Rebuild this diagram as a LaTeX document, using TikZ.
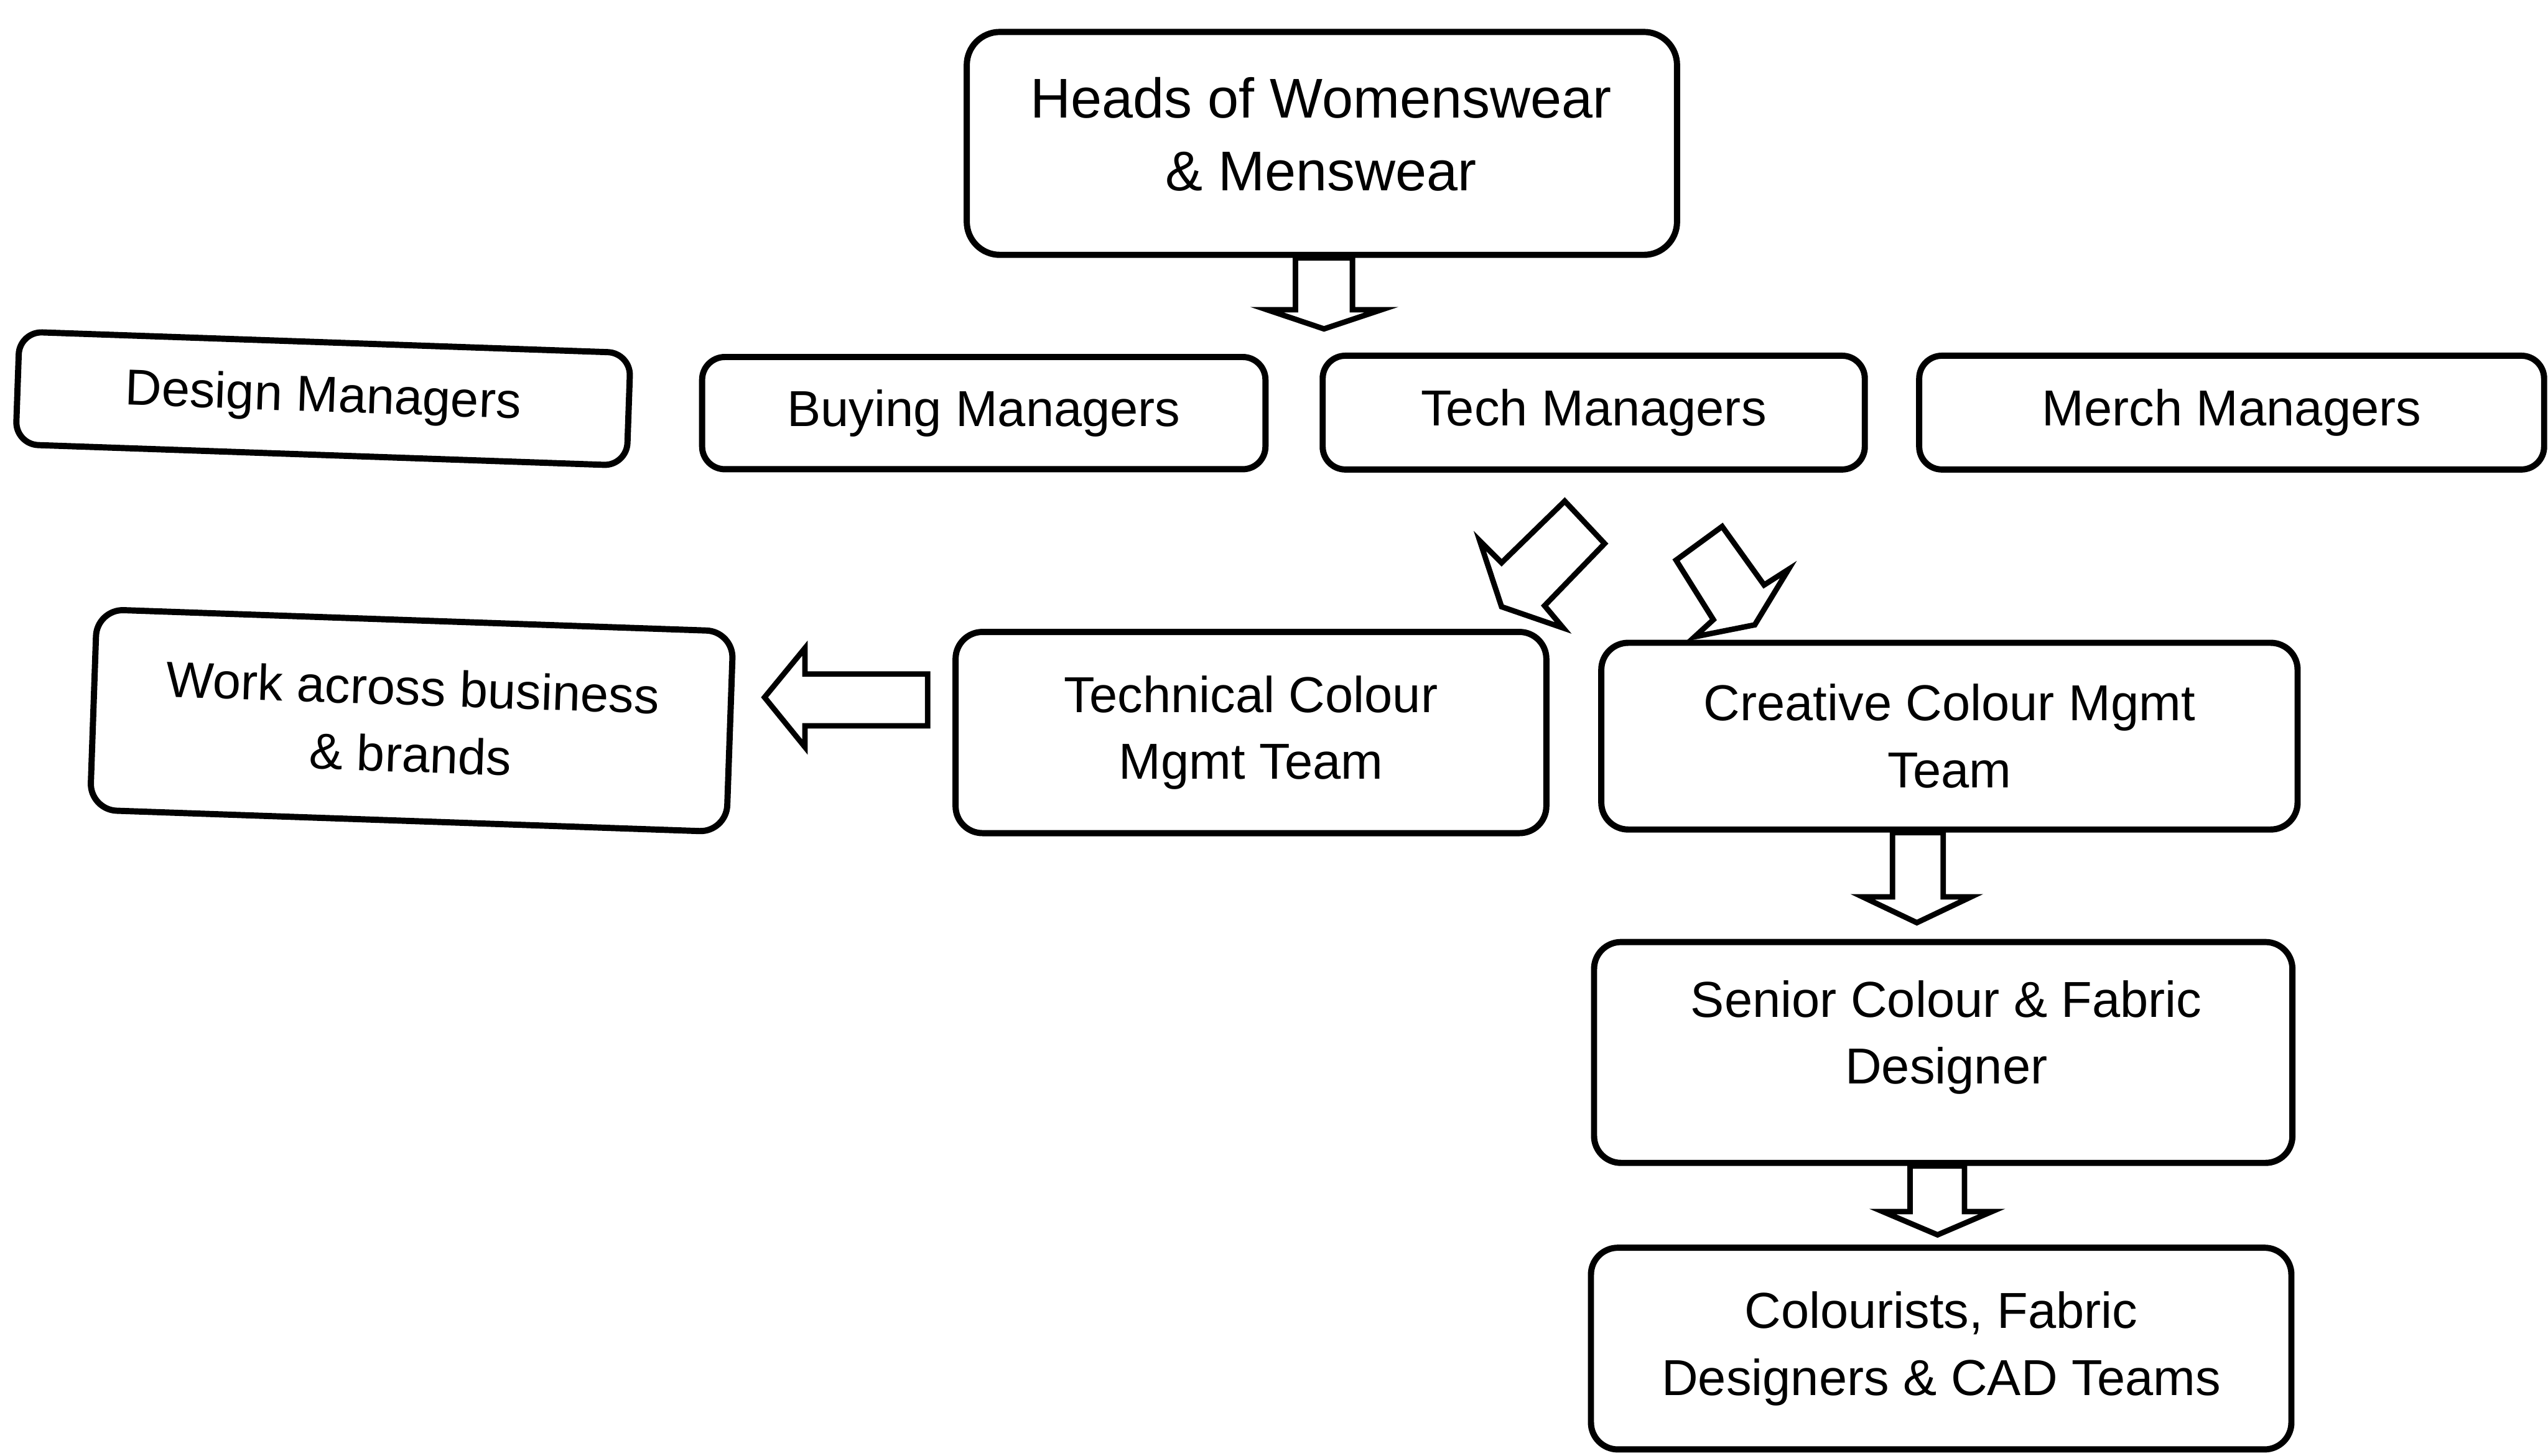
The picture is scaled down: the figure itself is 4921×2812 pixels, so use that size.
\documentclass[tikz,border=0pt]{standalone}
\usepackage{fontspec}
\setmainfont{Liberation Sans}
\usetikzlibrary{calc}
\begin{document}
\begin{tikzpicture}[x=0.005cm, y=-0.005cm,
  box/.style={draw, line width=1.7pt, rounded corners=0.22cm, align=center,
    inner sep=0pt, font=\fontsize{13.9}{18.4}\selectfont},
  lbl/.style={align=center, inner sep=0pt, font=\fontsize{13.9}{18.4}\selectfont},
  barrow/.style={draw, line width=1.5pt, fill=white, line join=miter}]
\useasboundingbox (0,0) rectangle (4921,2812);

% top level
\node[box, minimum width=6.865cm, minimum height=2.155cm, rounded corners=0.32cm] (heads) at (2553,277) {};
\node[lbl, font=\fontsize{15.4}{20}\selectfont] (headsText) at (2551,259) {Heads of Womenswear\\\& Menswear};

% managers row
\node[box, minimum width=5.91cm, minimum height=1.09cm, rotate=-2] (design) at (624,770) {Design Managers};
\node[box, minimum width=5.445cm, minimum height=1.085cm] (buying) at (1900,798) {Buying Managers};
\node[box, minimum width=5.24cm, minimum height=1.10cm] (tech) at (3078,797) {Tech Managers};
\node[box, minimum width=6.04cm, minimum height=1.10cm] (merch) at (4310,797) {Merch Managers};

% colour management teams
\node[box, minimum width=6.155cm, minimum height=1.94cm, rotate=-2, rounded corners=0.26cm] (work) at (795,1392) {Work across business\\\& brands};
\node[box, minimum width=5.71cm, minimum height=1.945cm, rounded corners=0.26cm] (technical) at (2416,1415) {Technical Colour\\Mgmt Team};
\node[box, minimum width=6.73cm, minimum height=1.805cm, rounded corners=0.26cm] (creative) at (3765,1422) {Creative Colour Mgmt\\Team};

% design chain
\node[box, minimum width=6.75cm, minimum height=2.135cm, rounded corners=0.26cm] (senior) at (3753,2033) {};
\node[lbl] (seniorText) at (3759,2004) {Senior Colour \& Fabric\\Designer};
\node[box, minimum width=6.77cm, minimum height=1.95cm, rounded corners=0.26cm] (colourists) at (3749,2605) {Colourists, Fabric\\Designers \& CAD Teams};

% block arrows
\draw[barrow] ($(heads.south)+(-51,0)$) -- ++(0,100) -- ++(-55,0) -- ++(110,37)
  -- ++(111,-37) -- ++(-56,0) -- ++(0,-100) -- cycle;

\draw[barrow] (3022,968) -- (3099,1050) -- (2983,1170) -- (3019,1213)
  -- (2900,1172) -- (2858,1045) -- (2900,1087) -- cycle;
\draw[barrow] (3237,1082) -- (3326,1017) -- (3407,1130) -- (3454,1100)
  -- (3389,1207) -- (3273,1230) -- (3309,1197) -- cycle;

\draw[barrow] ($(technical.west)+(-48,-113)$) -- ++(-237,0) -- ++(0,-50)
  -- ++(-78,95) -- ++(78,96) -- ++(0,-41) -- ++(237,0) -- cycle;

\draw[barrow] ($(creative.south)+(-110,0)$) -- ++(0,124) -- ++(-58,0) -- ++(105,50)
  -- ++(105,-50) -- ++(-54,0) -- ++(0,-124) -- cycle;

\draw[barrow] ($(senior.south)+(-64,0)$) -- ++(0,88) -- ++(-53,0) -- ++(106,45)
  -- ++(105,-45) -- ++(-53,0) -- ++(0,-88) -- cycle;
\end{tikzpicture}
\end{document}
